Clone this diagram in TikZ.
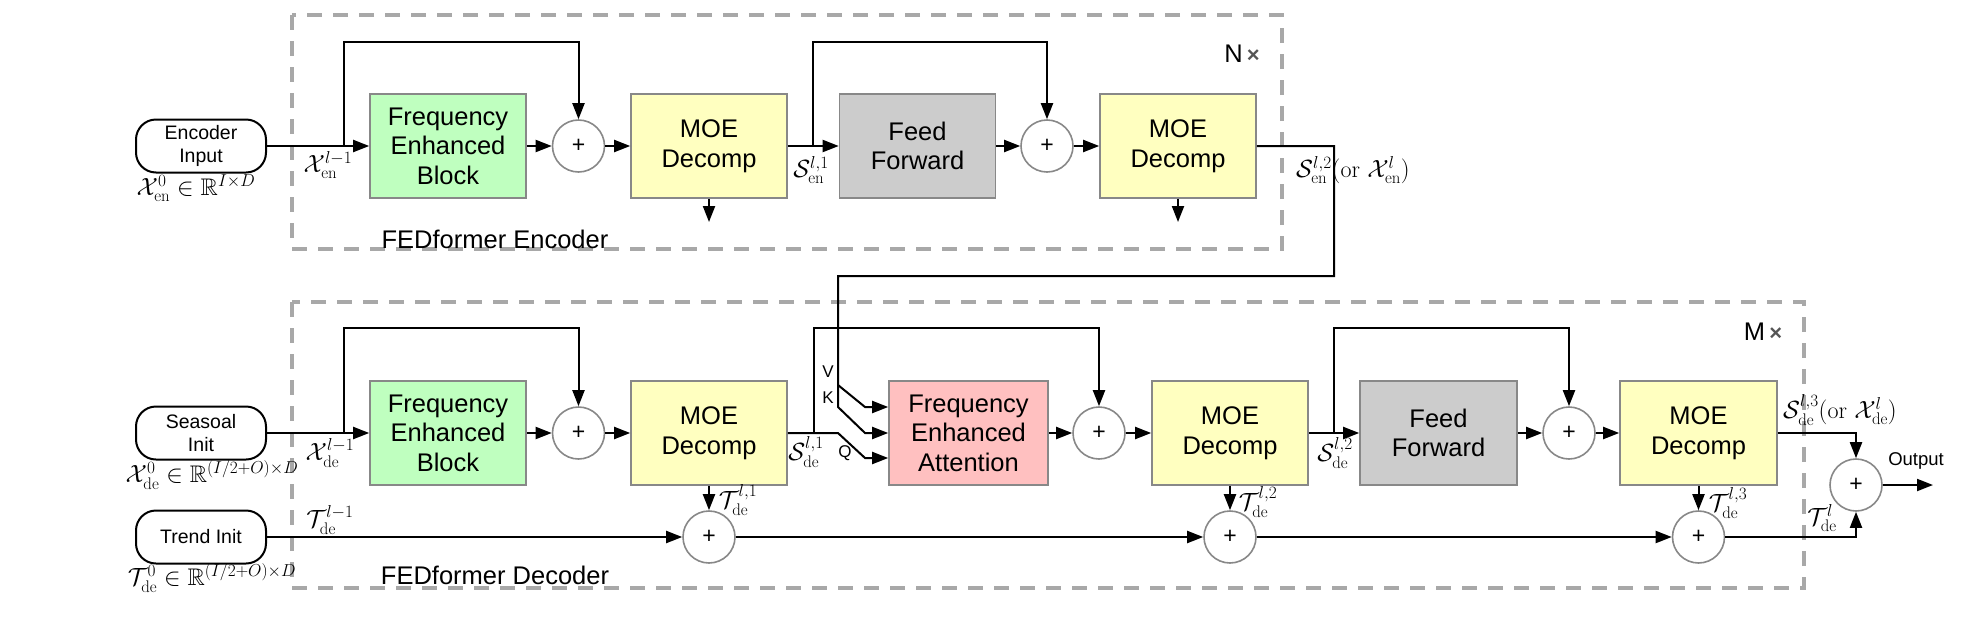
\documentclass[tikz,border=0pt]{standalone}
\usepackage{amssymb}
\usepackage{fontspec}
\setsansfont{Liberation Sans}
\usetikzlibrary{arrows.meta}
\definecolor{boxgray}{HTML}{888888}
\definecolor{framegray}{HTML}{A8A8A8}
\definecolor{xgray}{HTML}{555555}
\definecolor{fgreen}{HTML}{BFFFBF}
\definecolor{fyellow}{HTML}{FFFFC0}
\definecolor{fgray}{HTML}{CCCCCC}
\definecolor{fpink}{HTML}{FFC0C0}
\tikzset{
 blk/.style={draw=boxgray, line width=1.6pt, minimum width=156pt, minimum height=104pt, align=center, font=\sffamily\fontsize{25.5}{29.5}\selectfont, inner sep=0pt},
 plus/.style={circle, draw=boxgray, line width=1.6pt, fill=white, minimum size=52pt, inner sep=0pt, font=\sffamily\fontsize{23}{23}\selectfont},
 pill/.style={draw=black, line width=2pt, rounded corners=20pt, minimum width=130pt, minimum height=53pt, align=center, font=\sffamily\fontsize{19.5}{23}\selectfont, inner sep=0pt},
 con/.style={line width=2pt, draw=black},
 arr/.style={con, -{Triangle[length=16pt,width=12pt]}},
 lab/.style={font=\fontsize{24}{28}\selectfont, inner sep=0pt},
 small/.style={font=\sffamily\fontsize{17}{20}\selectfont, inner sep=0pt},
 frame/.style={draw=framegray, line width=3.3pt, dash pattern=on 15pt off 11pt},
 title/.style={font=\sffamily\fontsize{25.5}{30}\selectfont, inner sep=0pt},
}
\begin{document}
\begin{tikzpicture}[x=1pt,y=-1pt]
\useasboundingbox (0,0) rectangle (1978,619);
% frames
\draw[frame] (292,15) rectangle (1282,249);
\draw[frame] (292,302) rectangle (1804,588);
\node[title] (enctitle) at (495,239) {FEDformer Encoder};
\node[title] (dectitle) at (495,575) {FEDformer Decoder};
\node[title] (nx) at (1242,54) {N\,{\color{xgray}\bfseries\fontsize{22}{22}\selectfont ×}};
\node[title] (mx) at (1763,332) {M\,{\color{xgray}\bfseries\fontsize{22}{22}\selectfont ×}};

% encoder nodes
\node[pill] (encin) at (201,146) {Encoder\\Input};
\node[blk, fill=fgreen] (feb1) at (448,146) {Frequency\\Enhanced\\Block};
\node[plus] (p1) at (578.5,146) {+};
\node[blk, fill=fyellow] (moe1) at (709,146) {MOE\\Decomp};
\node[blk, fill=fgray] (ff1) at (917.5,146) {Feed\\Forward};
\node[plus] (p2) at (1047,146) {+};
\node[blk, fill=fyellow] (moe2) at (1178,146) {MOE\\Decomp};

% decoder nodes
\node[pill] (seas) at (201,433) {Seasoal\\Init};
\node[pill] (trend) at (201,537) {Trend Init};
\node[blk, fill=fgreen] (feb2) at (448,433) {Frequency\\Enhanced\\Block};
\node[plus] (p3) at (578.5,433) {+};
\node[blk, fill=fyellow] (moe3) at (709,433) {MOE\\Decomp};
\node[blk, fill=fpink, minimum width=159pt] (fea) at (968.5,433) {Frequency\\Enhanced\\Attention};
\node[plus] (p4) at (1099,433) {+};
\node[blk, fill=fyellow] (moe4) at (1230,433) {MOE\\Decomp};
\node[blk, fill=fgray, minimum width=157pt] (ff2) at (1438.5,433) {Feed\\Forward};
\node[plus] (p5) at (1569,433) {+};
\node[blk, fill=fyellow, minimum width=157pt] (moe5) at (1698.5,433) {MOE\\Decomp};
\node[plus] (t1) at (709,537) {+};
\node[plus] (t2) at (1230,537) {+};
\node[plus] (t3) at (1698.5,537) {+};
\node[plus] (out) at (1856,485) {+};

% coordinates
\coordinate (eb1) at (344,146);
\coordinate (eb1t) at (344,42);
\coordinate (eb2) at (812.6,146);
\coordinate (eb2t) at (812.6,42);
\coordinate (m1d) at (709,222);
\coordinate (m2d) at (1178,222);
\coordinate (eo2) at (1334,276);
\coordinate (eo3) at (838,276);
\coordinate (eo4) at (838,385);
\coordinate (vk) at (838,407);
\coordinate (vd) at (865,407);
\coordinate (kd) at (865,433);
\coordinate (qb) at (838,433);
\coordinate (qd) at (865,458);
\coordinate (db1) at (344,433);
\coordinate (db1t) at (344,328);
\coordinate (db2) at (813.5,433);
\coordinate (db2t) at (813.5,328);
\coordinate (db3) at (1334,433);
\coordinate (db3t) at (1334,328);
\coordinate (oend) at (1933,485);

% encoder connectors
\draw[arr] (encin.east) -- (feb1.west);
\draw[arr] (eb1) -- (eb1t) -| (p1.north);
\draw[arr] (feb1.east) -- (p1.west);
\draw[arr] (p1.east) -- (moe1.west);
\draw[arr] (moe1.east) -- (ff1.west);
\draw[arr] (eb2) -- (eb2t) -| (p2.north);
\draw[arr] (ff1.east) -- (p2.west);
\draw[arr] (p2.east) -- (moe2.west);
\draw[arr] (moe1.south) -- (m1d);
\draw[arr] (moe2.south) -- (m2d);
\draw[arr] (moe2.east) -| (eo2) -- (eo3) -- (eo4) -- (vd) -- (fea.west |- vd);
\draw[arr] (eo4) -- (vk) -- (kd) -- (fea.west);

% decoder connectors
\draw[arr] (seas.east) -- (feb2.west);
\draw[arr] (db1) -- (db1t) -| (p3.north);
\draw[arr] (feb2.east) -- (p3.west);
\draw[arr] (p3.east) -- (moe3.west);
\draw[arr] (moe3.east) -- (qb) -- (qd) -- (fea.west |- qd);
\draw[arr] (db2) -- (db2t) -| (p4.north);
\draw[arr] (fea.east) -- (p4.west);
\draw[arr] (p4.east) -- (moe4.west);
\draw[arr] (moe4.east) -- (ff2.west);
\draw[arr] (db3) -- (db3t) -| (p5.north);
\draw[arr] (ff2.east) -- (p5.west);
\draw[arr] (p5.east) -- (moe5.west);
\draw[arr] (moe5.east) -| (out.north);
\draw[arr] (trend.east) -- (t1.west);
\draw[arr] (t1.east) -- (t2.west);
\draw[arr] (t2.east) -- (t3.west);
\draw[arr] (t3.east) -| (out.south);
\draw[arr] (moe3.south) -- (t1.north);
\draw[arr] (moe4.south) -- (t2.north);
\draw[arr] (moe5.south) -- (t3.north);
\draw[arr] (out.east) -- (oend);

% labels
\node[lab] (lxen0) at (196,188) {$\mathcal{X}^0_{\mathrm{en}}\in\mathbb{R}^{I\times D}$};
\node[lab] (lxen) at (328,165) {$\mathcal{X}^{l-1}_{\mathrm{en}}$};
\node[lab] (lsen1) at (811,170) {$\mathcal{S}^{l,1}_{\mathrm{en}}$};
\node[lab, anchor=west] (lsen2) at (1296,170) {$\mathcal{S}^{l,2}_{\mathrm{en}}(\mathrm{or}\ \mathcal{X}^{l}_{\mathrm{en}})$};
\node[lab] (lxde0) at (212,475) {$\mathcal{X}^0_{\mathrm{de}}\in\mathbb{R}^{(I/2+O)\times D}$};
\node[lab] (ltde0) at (212,578) {$\mathcal{T}^0_{\mathrm{de}}\in\mathbb{R}^{(I/2+O)\times D}$};
\node[lab] (lxde) at (330,453) {$\mathcal{X}^{l-1}_{\mathrm{de}}$};
\node[lab] (ltde) at (330,520) {$\mathcal{T}^{l-1}_{\mathrm{de}}$};
\node[lab] (lsde1) at (806,452) {$\mathcal{S}^{l,1}_{\mathrm{de}}$};
\node[lab] (lsde2) at (1335,453) {$\mathcal{S}^{l,2}_{\mathrm{de}}$};
\node[lab] (ltde1) at (738,500) {$\mathcal{T}^{l,1}_{\mathrm{de}}$};
\node[lab] (ltde2) at (1258,502) {$\mathcal{T}^{l,2}_{\mathrm{de}}$};
\node[lab] (ltde3) at (1728,503) {$\mathcal{T}^{l,3}_{\mathrm{de}}$};
\node[lab, anchor=west] (lsde3) at (1783,410) {$\mathcal{S}^{l,3}_{\mathrm{de}}(\mathrm{or}\ \mathcal{X}^{l}_{\mathrm{de}})$};
\node[lab] (ltdel) at (1822,518) {$\mathcal{T}^{l}_{\mathrm{de}}$};
\node[small] (lv) at (828,372) {V};
\node[small] (lk) at (828,398) {K};
\node[small] (lq) at (845,453) {Q};
\node[small, font=\sffamily\fontsize{18.5}{22}\selectfont] (lout) at (1916,461) {Output};
\end{tikzpicture}
\end{document}
